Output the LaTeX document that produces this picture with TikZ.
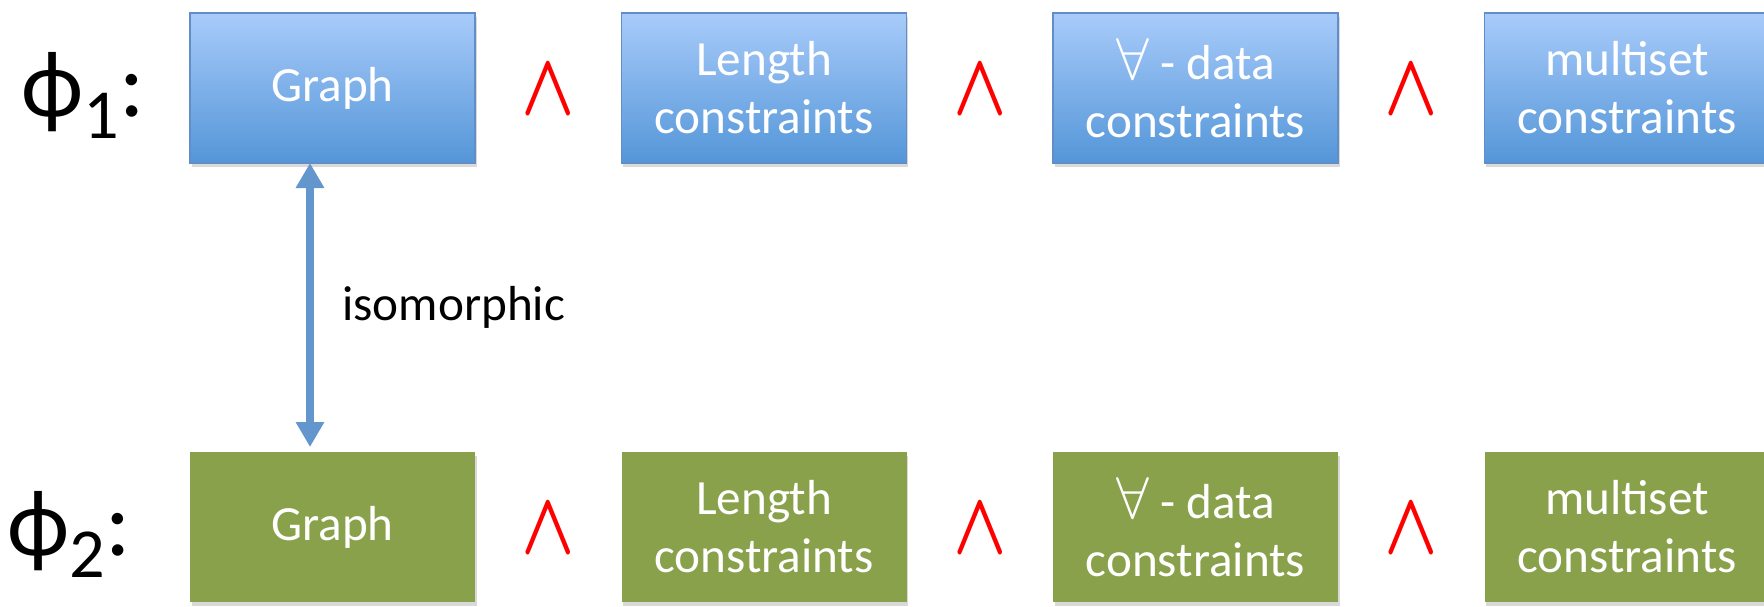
\documentclass[tikz,border=0pt]{standalone}
\usepackage{fontspec}
\setmainfont{Carlito}
\usepackage{graphicx}
\usepackage{tikz}
\usetikzlibrary{positioning,calc,arrows.meta,shadows}
\definecolor{rowblue}{RGB}{168,203,250}
\definecolor{rowbluedark}{RGB}{84,150,216}
\definecolor{rowblueedge}{RGB}{98,142,200}
\definecolor{rowgreen}{RGB}{138,161,76}
\definecolor{linkblue}{RGB}{98,150,204}
\newcommand{\wedgesym}{\resizebox{1.07cm}{0.98cm}{\boldmath$\wedge$}}
\newcommand{\allsym}{\scalebox{1.35}{$\forall$}}

\begin{document}
\begin{tikzpicture}[every node/.style={font=\fontsize{28}{33}\selectfont}]
  \tikzstyle{cbox}=[minimum width=5.7cm, minimum height=3.0cm, align=center, text=white, outer sep=0pt, drop shadow={opacity=0.3, shadow xshift=0.03cm, shadow yshift=-0.08cm}]
  \tikzstyle{bluebox}=[cbox, draw=rowblueedge, line width=0.8pt, top color=rowblue, bottom color=rowbluedark]
  \tikzstyle{greenbox}=[cbox, fill=rowgreen]
  \tikzstyle{conj}=[red, inner sep=0pt, yshift=-0.04cm]
  \tikzstyle{formula}=[inner sep=0pt, yshift=-0.14cm, font=\fontsize{54}{60}\selectfont]
  \tikzstyle{iso}=[linkblue, line width=0.16cm, {Triangle[width=0.54cm,length=0.5cm]}-{Triangle[width=0.54cm,length=0.5cm]}, shorten >=0.1cm]
  \useasboundingbox (0,0) rectangle (35.28,-12.12);
  % phi 1
  \node[bluebox] (graph1) at (6.65,-1.76) {Graph};
  \node[bluebox, right=2.93cm of graph1] (len1) {Length\\constraints};
  \node[bluebox, right=2.93cm of len1] (data1) {\allsym{} - data\\constraints};
  \node[bluebox, right=2.93cm of data1] (multi1) {multiset\\constraints};
  \node[formula, left=0.9cm of graph1] (phi1) {ϕ\raisebox{-0.44cm}{\fontsize{40}{40}\selectfont 1}:};
  % phi 2
  \node[greenbox] (graph2) at (6.65,-10.54) {Graph};
  \node[greenbox, right=2.93cm of graph2] (len2) {Length\\constraints};
  \node[greenbox, right=2.93cm of len2] (data2) {\allsym{} - data\\constraints};
  \node[greenbox, right=2.93cm of data2] (multi2) {multiset\\constraints};
  \node[formula, left=1.18cm of graph2] (phi2) {ϕ\raisebox{-0.44cm}{\fontsize{40}{40}\selectfont 2}:};
  % conjunctions
  \foreach \r in {1,2} {
    \node[conj] (andA\r) at ($(graph\r.east)!0.5!(len\r.west)$) {\wedgesym};
    \node[conj] (andB\r) at ($(len\r.east)!0.5!(data\r.west)$) {\wedgesym};
    \node[conj] (andC\r) at ($(data\r.east)!0.5!(multi\r.west)$) {\wedgesym};
  }
  \draw[iso] ([xshift=-0.45cm]graph1.south) -- ([xshift=-0.45cm]graph2.north)
    node[midway, right=0.45cm, text=black] (isolabel) {isomorphic};
\end{tikzpicture}
\end{document}
